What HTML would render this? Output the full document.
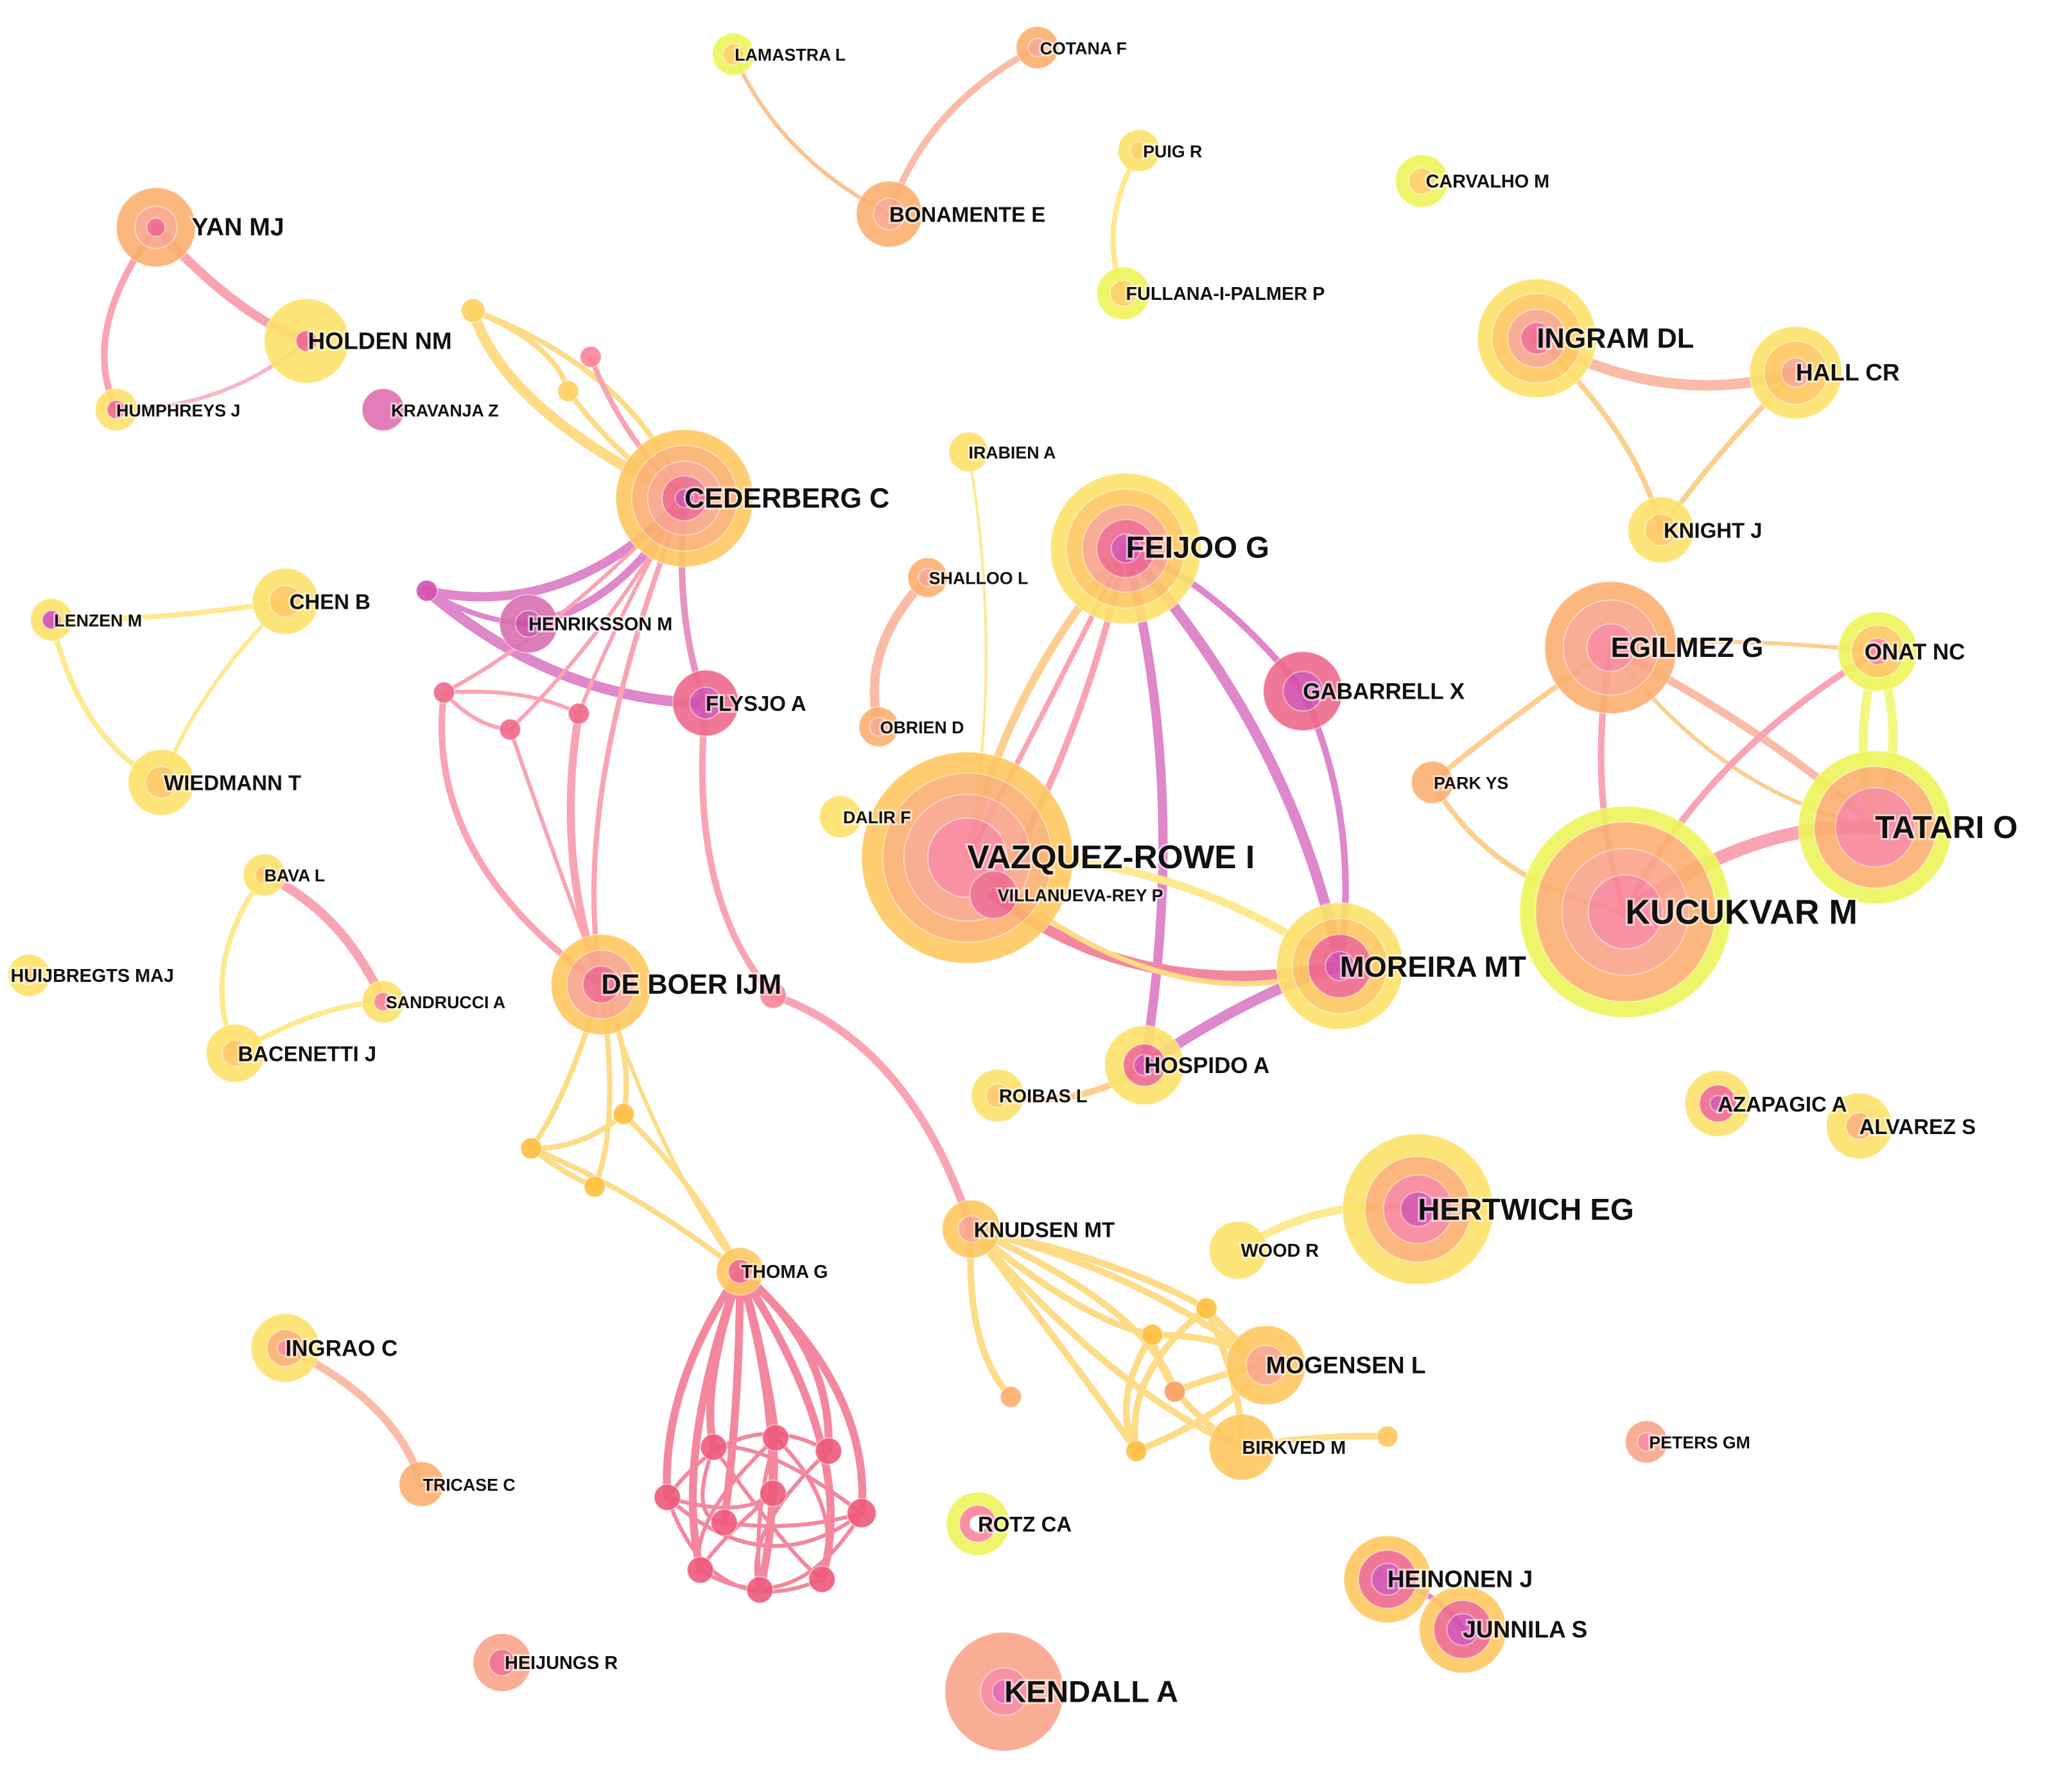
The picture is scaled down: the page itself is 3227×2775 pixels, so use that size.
<!DOCTYPE html>
<html><head><meta charset="utf-8"><style>
html,body{margin:0;padding:0;background:#fff}
svg{display:block}
text{font-family:"Liberation Sans",Arial,sans-serif;font-weight:bold;fill:#111;paint-order:stroke;stroke:rgba(255,255,255,0.55);stroke-width:3px}
.L{font-size:21px}.M{font-size:16px}.S{font-size:13px}
.e{fill:none;stroke-linecap:round}
.nd circle{stroke:rgba(255,255,255,0.45);stroke-width:1}
</style></head><body>
<svg width="3227" height="2775" viewBox="0 0 1568 1348.4" xmlns="http://www.w3.org/2000/svg">
<g class="e" opacity="0.75">
<path d="M118,172 Q180,240 232,258" stroke="#f7869a" stroke-width="7"/>
<path d="M118,172 Q60,250 88,310" stroke="#f7869a" stroke-width="5"/>
<path d="M88,310 Q170,310 232,258" stroke="#f7a0b0" stroke-width="3"/>
<path d="M555,41 Q590,120 673,162" stroke="#f8b070" stroke-width="3"/>
<path d="M785,36 Q700,80 673,162" stroke="#f9a58a" stroke-width="5"/>
<path d="M862,114 Q830,170 850,222" stroke="#fde26a" stroke-width="4"/>
<path d="M1163,256 Q1260,310 1359,282" stroke="#f9a58a" stroke-width="8"/>
<path d="M1163,256 Q1240,330 1257,401" stroke="#fbbf6b" stroke-width="4"/>
<path d="M1359,282 Q1300,340 1257,401" stroke="#fbbf6b" stroke-width="4"/>
<path d="M39,469 Q120,470 216,455" stroke="#fde26a" stroke-width="4"/>
<path d="M39,469 Q60,560 122,592" stroke="#fde26a" stroke-width="4"/>
<path d="M216,455 Q150,520 122,592" stroke="#fde26a" stroke-width="3"/>
<path d="M200,662 Q260,690 290,758" stroke="#f7869a" stroke-width="7"/>
<path d="M200,662 Q150,730 178,797" stroke="#fde26a" stroke-width="4"/>
<path d="M178,797 Q240,760 290,758" stroke="#fde26a" stroke-width="4"/>
<path d="M216,1020 Q300,1060 319,1123" stroke="#f9a58a" stroke-width="6"/>
<path d="M702,437 Q650,490 665,550" stroke="#f9a58a" stroke-width="7"/>
<path d="M733,342 Q760,500 732,649" stroke="#fde26a" stroke-width="2"/>
<path d="M937,946 Q1000,905 1073,915" stroke="#fde26a" stroke-width="6"/>
<path d="M1050,1195 Q1090,1205 1107,1233" stroke="#d35fb9" stroke-width="4"/>
<path d="M358,235 Q380,310 518,377" stroke="#fdd060" stroke-width="8"/>
<path d="M358,235 Q420,260 430,296" stroke="#fdd060" stroke-width="4"/>
<path d="M358,235 Q480,280 518,377" stroke="#fdd060" stroke-width="4"/>
<path d="M447,270 Q470,330 518,377" stroke="#f7869a" stroke-width="4"/>
<path d="M430,296 Q470,350 518,377" stroke="#fdd060" stroke-width="4"/>
<path d="M518,377 Q430,470 323,447" stroke="#d35fb9" stroke-width="7"/>
<path d="M518,377 Q470,460 400,472" stroke="#d35fb9" stroke-width="6"/>
<path d="M518,377 Q510,470 534,532" stroke="#e070b0" stroke-width="5"/>
<path d="M323,447 Q420,530 534,532" stroke="#d35fb9" stroke-width="8"/>
<path d="M323,447 Q360,470 400,472" stroke="#d35fb9" stroke-width="4"/>
<path d="M518,377 Q420,480 336,524" stroke="#f7869a" stroke-width="3"/>
<path d="M518,377 Q460,480 386,552" stroke="#f7869a" stroke-width="3"/>
<path d="M518,377 Q470,460 438,540" stroke="#f7869a" stroke-width="3"/>
<path d="M518,377 Q430,600 455,745" stroke="#f7869a" stroke-width="4"/>
<path d="M336,524 Q320,650 455,745" stroke="#f7869a" stroke-width="5"/>
<path d="M336,524 Q360,550 386,552" stroke="#f7869a" stroke-width="3"/>
<path d="M386,552 Q420,650 455,745" stroke="#f7869a" stroke-width="3"/>
<path d="M438,540 Q420,650 455,745" stroke="#f7869a" stroke-width="6"/>
<path d="M336,524 Q400,520 438,540" stroke="#f7869a" stroke-width="3"/>
<path d="M534,532 Q520,680 585,753" stroke="#f7869a" stroke-width="5"/>
<path d="M585,753 Q690,790 735,930" stroke="#f7869a" stroke-width="6"/>
<path d="M455,745 Q430,830 402,869" stroke="#fdd060" stroke-width="4"/>
<path d="M455,745 Q480,800 472,843" stroke="#fdd060" stroke-width="4"/>
<path d="M455,745 Q470,850 450,898" stroke="#fdd060" stroke-width="4"/>
<path d="M402,869 Q480,900 560,962" stroke="#fdd060" stroke-width="4"/>
<path d="M472,843 Q530,900 560,962" stroke="#fdd060" stroke-width="4"/>
<path d="M402,869 Q440,870 472,843" stroke="#fdd060" stroke-width="4"/>
<path d="M402,869 Q430,890 450,898" stroke="#fdd060" stroke-width="4"/>
<path d="M455,745 Q500,880 560,962" stroke="#fdd060" stroke-width="3"/>
<g stroke="#f0607e" stroke-width="6">
<path d="M560,962 Q500,1050 505,1133"/><path d="M560,962 Q530,1050 540,1095"/>
<path d="M560,962 Q580,1030 587,1088"/><path d="M560,962 Q630,1020 627,1098"/>
<path d="M560,962 Q660,1050 652,1145"/><path d="M560,962 Q650,1100 622,1195"/>
<path d="M560,962 Q600,1100 575,1203"/><path d="M560,962 Q510,1100 530,1188"/>
<path d="M560,962 Q560,1060 548,1152"/><path d="M560,962 Q590,1060 585,1130"/>
</g>
<g stroke="#f0607e" stroke-width="3">
<path d="M505,1133 Q560,1060 627,1098"/><path d="M505,1133 Q580,1200 652,1145"/>
<path d="M540,1095 Q600,1180 622,1195"/><path d="M587,1088 Q520,1150 530,1188"/>
<path d="M627,1098 Q560,1160 575,1203"/><path d="M652,1145 Q580,1090 540,1095"/>
<path d="M548,1152 Q600,1160 652,1145"/><path d="M585,1130 Q540,1170 530,1188"/>
<path d="M505,1133 Q540,1230 622,1195"/><path d="M540,1095 Q520,1150 548,1152"/>
<path d="M587,1088 Q640,1140 622,1195"/><path d="M530,1188 Q600,1230 652,1145"/>
<path d="M505,1133 Q560,1150 585,1130"/><path d="M587,1088 Q570,1140 575,1203"/>
</g>
<g stroke="#fdd060" stroke-width="5">
<path d="M735,930 Q820,1000 872,1010"/><path d="M735,930 Q840,950 913,990"/>
<path d="M735,930 Q820,1040 860,1098"/><path d="M735,930 Q850,1060 940,1095"/>
<path d="M735,930 Q860,960 958,1033"/><path d="M735,930 Q730,1020 765,1057"/>
<path d="M913,990 Q940,1050 940,1095"/><path d="M872,1010 Q880,1060 940,1095"/>
<path d="M913,990 Q850,1040 860,1098"/><path d="M860,1098 Q930,1070 958,1033"/>
<path d="M872,1010 Q930,1010 958,1033"/><path d="M913,990 Q930,1010 958,1033"/>
<path d="M940,1095 Q1000,1085 1050,1087"/><path d="M872,1010 Q840,1060 860,1098"/>
<path d="M889,1053 Q920,1040 958,1033"/><path d="M735,930 Q870,990 889,1053"/>
</g>
<path d="M852,415 Q760,520 732,649" stroke="#fbbf6b" stroke-width="6"/>
<path d="M852,415 Q820,560 752,677" stroke="#f7869a" stroke-width="5"/>
<path d="M852,415 Q780,560 732,649" stroke="#f7869a" stroke-width="4"/>
<path d="M852,415 Q920,440 986,523" stroke="#d35fb9" stroke-width="5"/>
<path d="M852,415 Q980,560 1014,731" stroke="#d35fb9" stroke-width="8"/>
<path d="M852,415 Q900,600 866,806" stroke="#d35fb9" stroke-width="7"/>
<path d="M986,523 Q1030,620 1014,731" stroke="#d35fb9" stroke-width="5"/>
<path d="M732,649 Q880,640 1014,731" stroke="#fde26a" stroke-width="6"/>
<path d="M752,677 Q860,760 1014,731" stroke="#f0607e" stroke-width="8"/>
<path d="M732,649 Q880,780 1014,731" stroke="#fdd060" stroke-width="4"/>
<path d="M866,806 Q950,750 1014,731" stroke="#d35fb9" stroke-width="8"/>
<path d="M755,829 Q820,840 866,806" stroke="#fbbf6b" stroke-width="5"/>
<path d="M1219,490 Q1300,480 1421,493" stroke="#fbbf6b" stroke-width="3"/>
<path d="M1219,490 Q1200,600 1230,690" stroke="#f7869a" stroke-width="5"/>
<path d="M1219,490 Q1350,560 1419,626" stroke="#f9a58a" stroke-width="6"/>
<path d="M1219,490 Q1120,560 1084,592" stroke="#fbbf6b" stroke-width="4"/>
<path d="M1219,490 Q1300,600 1419,626" stroke="#fbbf6b" stroke-width="3"/>
<path d="M1421,493 Q1290,570 1230,690" stroke="#f7869a" stroke-width="5"/>
<path d="M1421,493 Q1400,560 1419,626" stroke="#eef55a" stroke-width="7"/>
<path d="M1421,493 Q1445,560 1419,626" stroke="#eef55a" stroke-width="7"/>
<path d="M1230,690 Q1330,620 1419,626" stroke="#f7869a" stroke-width="10"/>
<path d="M1084,592 Q1130,670 1230,690" stroke="#fbbf6b" stroke-width="4"/>
</g>
<g opacity="0.9" class="nd">
<g><circle cx="118" cy="172" r="30" fill="#fbb070"/><circle cx="118" cy="172" r="16" fill="#f9a58a"/><circle cx="118" cy="172" r="7" fill="#ee6a8c"/></g>
<g><circle cx="232" cy="258" r="32" fill="#fde26a"/><circle cx="232" cy="258" r="8" fill="#ee6a8c"/></g>
<g><circle cx="88" cy="310" r="16" fill="#fde26a"/><circle cx="88" cy="310" r="7" fill="#ee6a8c"/></g>
<g><circle cx="290" cy="310" r="16" fill="#e070b0"/></g>
<g><circle cx="518" cy="377" r="52" fill="#fdc860"/><circle cx="518" cy="377" r="40" fill="#fbb070"/><circle cx="518" cy="377" r="28" fill="#f9a58a"/><circle cx="518" cy="377" r="17" fill="#ee6a8c"/><circle cx="518" cy="377" r="7" fill="#d34fae"/></g>
<circle cx="358" cy="235" r="9" fill="#fdd060"/><circle cx="447" cy="270" r="8" fill="#f7869a"/><circle cx="430" cy="296" r="8" fill="#fdd060"/>
<g><circle cx="555" cy="41" r="16" fill="#eef55a"/><circle cx="555" cy="41" r="8" fill="#fdd060"/></g>
<g><circle cx="785" cy="36" r="16" fill="#fbb070"/><circle cx="785" cy="36" r="7" fill="#f9a58a"/></g>
<g><circle cx="673" cy="162" r="25" fill="#fbb070"/><circle cx="673" cy="162" r="12" fill="#f9a58a"/></g>
<g><circle cx="862" cy="114" r="16" fill="#fde26a"/><circle cx="862" cy="114" r="7" fill="#fdd060"/></g>
<g><circle cx="850" cy="222" r="20" fill="#eef55a"/><circle cx="850" cy="222" r="10" fill="#fdd060"/></g>
<g><circle cx="1076" cy="137" r="20" fill="#eef55a"/><circle cx="1076" cy="137" r="10" fill="#fdd060"/></g>
<g><circle cx="1163" cy="256" r="45" fill="#fde26a"/><circle cx="1163" cy="256" r="34" fill="#fdc860"/><circle cx="1163" cy="256" r="22" fill="#f9a58a"/><circle cx="1163" cy="256" r="12" fill="#ee6a8c"/></g>
<g><circle cx="1359" cy="282" r="35" fill="#fde26a"/><circle cx="1359" cy="282" r="24" fill="#fdc860"/><circle cx="1359" cy="282" r="11" fill="#f9a58a"/></g>
<g><circle cx="1257" cy="401" r="25" fill="#fde26a"/><circle cx="1257" cy="401" r="12" fill="#fdc860"/></g>
<circle cx="733" cy="342" r="15" fill="#fde26a"/>
<g><circle cx="852" cy="415" r="57" fill="#fde26a"/><circle cx="852" cy="415" r="45" fill="#fdc860"/><circle cx="852" cy="415" r="33" fill="#f9a58a"/><circle cx="852" cy="415" r="22" fill="#ee6a8c"/><circle cx="852" cy="415" r="11" fill="#d34fae"/></g>
<g><circle cx="702" cy="437" r="15" fill="#fbb070"/><circle cx="702" cy="437" r="7" fill="#f9a58a"/></g>
<g><circle cx="665" cy="550" r="15" fill="#fbb070"/><circle cx="665" cy="550" r="7" fill="#f9a58a"/></g>
<g><circle cx="216" cy="455" r="25" fill="#fde26a"/><circle cx="216" cy="455" r="12" fill="#fdc860"/></g>
<g><circle cx="39" cy="469" r="16" fill="#fde26a"/><circle cx="39" cy="469" r="7" fill="#d34fae"/></g>
<g><circle cx="122" cy="592" r="25" fill="#fde26a"/><circle cx="122" cy="592" r="12" fill="#fdc860"/></g>
<g><circle cx="400" cy="472" r="22" fill="#d870b0"/><circle cx="400" cy="472" r="10" fill="#c850a8"/></g>
<g><circle cx="534" cy="532" r="25" fill="#ee6a8c"/><circle cx="534" cy="532" r="12" fill="#d34fae"/></g>
<circle cx="323" cy="447" r="8" fill="#d34fae"/><circle cx="336" cy="524" r="8" fill="#ee6a8c"/><circle cx="386" cy="552" r="8" fill="#ee6a8c"/><circle cx="438" cy="540" r="8" fill="#ee6a8c"/>
<g><circle cx="986" cy="523" r="30" fill="#ee6a8c"/><circle cx="986" cy="523" r="15" fill="#d34fae"/></g>
<g><circle cx="1219" cy="490" r="50" fill="#fbb070"/><circle cx="1219" cy="490" r="36" fill="#f9a58a"/><circle cx="1219" cy="490" r="18" fill="#f7869a"/></g>
<g><circle cx="1421" cy="493" r="30" fill="#eef55a"/><circle cx="1421" cy="493" r="20" fill="#fdc860"/><circle cx="1421" cy="493" r="10" fill="#f7869a"/></g>
<g><circle cx="1084" cy="592" r="16" fill="#fbb070"/></g>
<g><circle cx="636" cy="618" r="16" fill="#fde26a"/></g>
<g><circle cx="732" cy="649" r="80" fill="#fdc860"/><circle cx="732" cy="649" r="64" fill="#fbb070"/><circle cx="732" cy="649" r="48" fill="#f9a58a"/><circle cx="732" cy="649" r="30" fill="#f7869a"/></g>
<g><circle cx="752" cy="677" r="18" fill="#ee6a8c" stroke="#fff" stroke-width="2"/></g>
<g><circle cx="1419" cy="626" r="58" fill="#eef55a"/><circle cx="1419" cy="626" r="46" fill="#fbb070"/><circle cx="1419" cy="626" r="30" fill="#f7869a"/></g>
<g><circle cx="1230" cy="690" r="80" fill="#eef55a"/><circle cx="1230" cy="690" r="68" fill="#fbb070"/><circle cx="1230" cy="690" r="48" fill="#f9a58a"/><circle cx="1230" cy="690" r="28" fill="#f7869a"/></g>
<g><circle cx="1014" cy="731" r="48" fill="#fde26a"/><circle cx="1014" cy="731" r="36" fill="#fdc860"/><circle cx="1014" cy="731" r="24" fill="#ee6a8c"/><circle cx="1014" cy="731" r="11" fill="#d34fae"/></g>
<g><circle cx="200" cy="662" r="16" fill="#fde26a"/><circle cx="200" cy="662" r="7" fill="#fdc860"/></g>
<g><circle cx="22" cy="738" r="16" fill="#fde26a"/><circle cx="22" cy="738" r="7" fill="#fdc860"/></g>
<g><circle cx="290" cy="758" r="16" fill="#fde26a"/><circle cx="290" cy="758" r="7" fill="#f7869a"/></g>
<g><circle cx="178" cy="797" r="22" fill="#fde26a"/><circle cx="178" cy="797" r="10" fill="#fdc860"/></g>
<g><circle cx="455" cy="745" r="38" fill="#fdc860"/><circle cx="455" cy="745" r="26" fill="#f9a58a"/><circle cx="455" cy="745" r="14" fill="#ee6a8c"/></g>
<circle cx="585" cy="753" r="10" fill="#f7869a"/>
<g><circle cx="866" cy="806" r="30" fill="#fde26a"/><circle cx="866" cy="806" r="16" fill="#ee6a8c"/><circle cx="866" cy="806" r="8" fill="#d34fae"/></g>
<g><circle cx="755" cy="829" r="20" fill="#fde26a"/><circle cx="755" cy="829" r="9" fill="#fdc860"/></g>
<g><circle cx="1300" cy="835" r="25" fill="#fde26a"/><circle cx="1300" cy="835" r="14" fill="#ee6a8c"/><circle cx="1300" cy="835" r="6" fill="#d34fae"/></g>
<g><circle cx="1407" cy="852" r="25" fill="#fde26a"/><circle cx="1407" cy="852" r="10" fill="#fbb070"/></g>
<circle cx="402" cy="869" r="8" fill="#fdc040"/><circle cx="472" cy="843" r="8" fill="#fdc040"/><circle cx="450" cy="898" r="8" fill="#fdc040"/>
<g><circle cx="1073" cy="915" r="57" fill="#fde26a"/><circle cx="1073" cy="915" r="40" fill="#fbb070"/><circle cx="1073" cy="915" r="26" fill="#f7869a"/><circle cx="1073" cy="915" r="13" fill="#d34fae"/></g>
<g><circle cx="937" cy="946" r="22" fill="#fde26a"/></g>
<g><circle cx="735" cy="930" r="22" fill="#fdc860"/><circle cx="735" cy="930" r="10" fill="#f9a58a"/></g>
<g><circle cx="560" cy="962" r="18" fill="#fdc860"/><circle cx="560" cy="962" r="9" fill="#ee6a8c"/></g>
<g><circle cx="958" cy="1033" r="30" fill="#fdc860"/><circle cx="958" cy="1033" r="15" fill="#f9a58a"/></g>
<g><circle cx="940" cy="1095" r="25" fill="#fdc860"/></g>
<circle cx="913" cy="990" r="8" fill="#fdc040"/><circle cx="872" cy="1010" r="8" fill="#fdc040"/><circle cx="889" cy="1053" r="8" fill="#f9a060"/><circle cx="860" cy="1098" r="8" fill="#fdc040"/><circle cx="1050" cy="1087" r="8" fill="#fdc860"/><circle cx="765" cy="1057" r="8" fill="#fbb070"/>
<g><circle cx="216" cy="1020" r="26" fill="#fde26a"/><circle cx="216" cy="1020" r="14" fill="#fbb070"/><circle cx="216" cy="1020" r="6" fill="#f7869a"/></g>
<g><circle cx="319" cy="1123" r="17" fill="#fbb070"/></g>
<g><circle cx="1246" cy="1091" r="16" fill="#f9a58a"/><circle cx="1246" cy="1091" r="7" fill="#f7869a"/></g>
<g><circle cx="740" cy="1153" r="24" fill="#eef55a"/><circle cx="740" cy="1153" r="14" fill="#f7869a"/><circle cx="740" cy="1153" r="6" fill="#fff"/></g>
<g fill="#ee5a7c" stroke="#fff" stroke-width="2">
<circle cx="505" cy="1133" r="10"/><circle cx="540" cy="1095" r="10"/><circle cx="587" cy="1088" r="10"/><circle cx="627" cy="1098" r="10"/><circle cx="652" cy="1145" r="11"/><circle cx="622" cy="1195" r="10"/><circle cx="575" cy="1203" r="10"/><circle cx="530" cy="1188" r="10"/><circle cx="548" cy="1152" r="10"/><circle cx="585" cy="1130" r="10"/>
</g>
<g><circle cx="1050" cy="1195" r="33" fill="#fdc860"/><circle cx="1050" cy="1195" r="22" fill="#ee6a8c"/><circle cx="1050" cy="1195" r="12" fill="#d34fae"/></g>
<g><circle cx="1107" cy="1233" r="33" fill="#fdc860"/><circle cx="1107" cy="1233" r="22" fill="#ee6a8c"/><circle cx="1107" cy="1233" r="12" fill="#d34fae"/></g>
<g><circle cx="380" cy="1258" r="22" fill="#f9a58a"/><circle cx="380" cy="1258" r="10" fill="#ee6a8c"/></g>
<g><circle cx="760" cy="1280" r="45" fill="#f9a58a"/><circle cx="760" cy="1280" r="18" fill="#f7869a"/><circle cx="760" cy="1280" r="9" fill="#e060b0"/></g>
</g>
<text x="145" y="172" class="M" dy="6" style="font-size:19px">YAN MJ</text>
<text x="233" y="258" class="M" dy="6" style="font-size:18px">HOLDEN NM</text>
<text x="88" y="310" class="S" dy="5">HUMPHREYS J</text>
<text x="296" y="310" class="S" dy="5">KRAVANJA Z</text>
<text x="518" y="377" class="L" dy="7">CEDERBERG C</text>
<text x="556" y="41" class="S" dy="5">LAMASTRA L</text>
<text x="787" y="36" class="S" dy="5">COTANA F</text>
<text x="673" y="162" class="M" dy="6">BONAMENTE E</text>
<text x="865" y="114" class="S" dy="5">PUIG R</text>
<text x="852" y="222" class="S" dy="5" style="font-size:14px">FULLANA-I-PALMER P</text>
<text x="1079" y="137" class="S" dy="5" style="font-size:14px">CARVALHO M</text>
<text x="1163" y="256" class="L" dy="7">INGRAM DL</text>
<text x="1359" y="282" class="M" dy="6" style="font-size:18px">HALL CR</text>
<text x="1259" y="401" class="M" dy="6">KNIGHT J</text>
<text x="733" y="342" class="S" dy="5">IRABIEN A</text>
<text x="852" y="415" class="L" dy="7" style="font-size:23px">FEIJOO G</text>
<text x="703" y="437" class="S" dy="5">SHALLOO L</text>
<text x="666" y="550" class="S" dy="5">OBRIEN D</text>
<text x="219" y="455" class="M" dy="6">CHEN B</text>
<text x="41" y="469" class="S" dy="5">LENZEN M</text>
<text x="124" y="592" class="M" dy="6">WIEDMANN T</text>
<text x="400" y="472" class="S" dy="5" style="font-size:14px">HENRIKSSON M</text>
<text x="534" y="532" class="M" dy="6">FLYSJO A</text>
<text x="986" y="523" class="M" dy="6" style="font-size:17px">GABARRELL X</text>
<text x="1219" y="490" class="L" dy="7">EGILMEZ G</text>
<text x="1411" y="493" class="M" dy="6" style="font-size:17px">ONAT NC</text>
<text x="1085" y="592" class="S" dy="5">PARK YS</text>
<text x="638" y="618" class="S" dy="5">DALIR F</text>
<text x="732" y="649" class="L" dy="8" style="font-size:25px">VAZQUEZ-ROWE I</text>
<text x="755" y="677" class="S" dy="5">VILLANUEVA-REY P</text>
<text x="1419" y="626" class="L" dy="8" style="font-size:24px">TATARI O</text>
<text x="1230" y="690" class="L" dy="9" style="font-size:26px">KUCUKVAR M</text>
<text x="1014" y="731" class="L" dy="8" style="font-size:22px">MOREIRA MT</text>
<text x="200" y="662" class="S" dy="5">BAVA L</text>
<text x="8" y="738" class="S" dy="5" style="font-size:14px">HUIJBREGTS MAJ</text>
<text x="292" y="758" class="S" dy="5">SANDRUCCI A</text>
<text x="180" y="797" class="M" dy="6">BACENETTI J</text>
<text x="455" y="745" class="L" dy="7">DE BOER IJM</text>
<text x="866" y="806" class="M" dy="6" style="font-size:17px">HOSPIDO A</text>
<text x="756" y="829" class="S" dy="5" style="font-size:14px">ROIBAS L</text>
<text x="1300" y="835" class="M" dy="6">AZAPAGIC A</text>
<text x="1407" y="852" class="M" dy="6">ALVAREZ S</text>
<text x="1073" y="915" class="L" dy="8" style="font-size:23px">HERTWICH EG</text>
<text x="939" y="946" class="S" dy="5" style="font-size:14px">WOOD R</text>
<text x="737" y="930" class="M" dy="6">KNUDSEN MT</text>
<text x="561" y="962" class="S" dy="5" style="font-size:14px">THOMA G</text>
<text x="958" y="1033" class="M" dy="6" style="font-size:18px">MOGENSEN L</text>
<text x="940" y="1095" class="S" dy="5" style="font-size:14px">BIRKVED M</text>
<text x="216" y="1020" class="M" dy="6" style="font-size:17px">INGRAO C</text>
<text x="320" y="1123" class="S" dy="5">TRICASE C</text>
<text x="1248" y="1091" class="S" dy="5">PETERS GM</text>
<text x="740" y="1153" class="M" dy="6">ROTZ CA</text>
<text x="1050" y="1195" class="M" dy="6" style="font-size:18px">HEINONEN J</text>
<text x="1107" y="1233" class="M" dy="6" style="font-size:18px">JUNNILA S</text>
<text x="382" y="1258" class="S" dy="5" style="font-size:14px">HEIJUNGS R</text>
<text x="760" y="1280" class="L" dy="8" style="font-size:23px">KENDALL A</text>
</svg>
</body></html>
